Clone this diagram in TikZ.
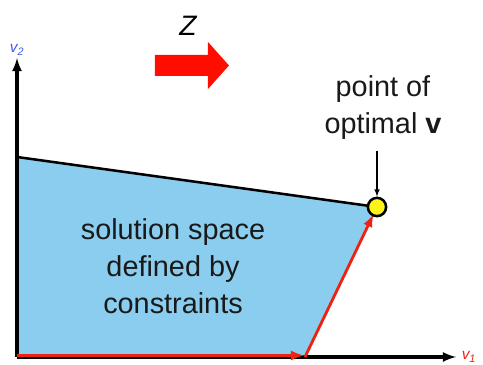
\documentclass[tikz,border=0pt]{standalone}
\usepackage{fontspec}
\setmainfont{Liberation Sans}
\definecolor{spaceblue}{RGB}{138,205,238}
\definecolor{lpred}{RGB}{238,34,17}
\definecolor{axisblue}{RGB}{70,90,235}
\begin{document}
\begin{tikzpicture}[x=0.025cm,y=-0.025cm,
  bigtext/.style={font=\fontsize{20.5}{26.3}\selectfont,text=black!90,align=center},
  smalltext/.style={font=\fontsize{11}{13}\selectfont\itshape}]
\useasboundingbox (0,0) rectangle (483,365);
% corners of the solution space
\coordinate (O) at (17,357);
\coordinate (A) at (17,157);
\coordinate (B) at (377,207);
\coordinate (C) at (305,357);
\fill[spaceblue] (O)--(A)--(B)--(C)--cycle;
% axes
\draw[line width=2.2pt,-latex] (O)--(17,58) node[above,smalltext,text=axisblue,inner sep=1pt] (v2) {v\textsubscript{2}};
\draw[line width=2.2pt,-latex] (O)--(456,357) node[right,smalltext,text=lpred,inner sep=3pt] (v1) {v\textsubscript{1}};
\draw[line width=1.8pt] (A)--(B);
% path along the constraints
\draw[line width=2.2pt,lpred,-latex] (17,355.5)--(304,355.5);
\draw[line width=2pt,lpred,-latex,shorten >=6pt] (C)--(B);
\node[circle,draw=black,line width=1.8pt,fill=yellow!90!white,minimum size=13pt,inner sep=0pt] (opt) at (B) {};
% objective direction
\fill[red!90!orange] (155,55)--(208,55)--(208,42)--(229,65.5)--(208,89)--(208,76)--(155,76)--cycle;
\node[font=\fontsize{20}{24}\selectfont\itshape] (Z) at (188,26) {Z};
\node[bigtext] (optlabel) at (383,108) {point of\\optimal \textbf{v}};
\draw[thick,-latex] (optlabel.south)++(-6,6)--(opt.north);
\node[bigtext] (region) at (173,266) {solution space\\defined by\\constraints};
\end{tikzpicture}
\end{document}
